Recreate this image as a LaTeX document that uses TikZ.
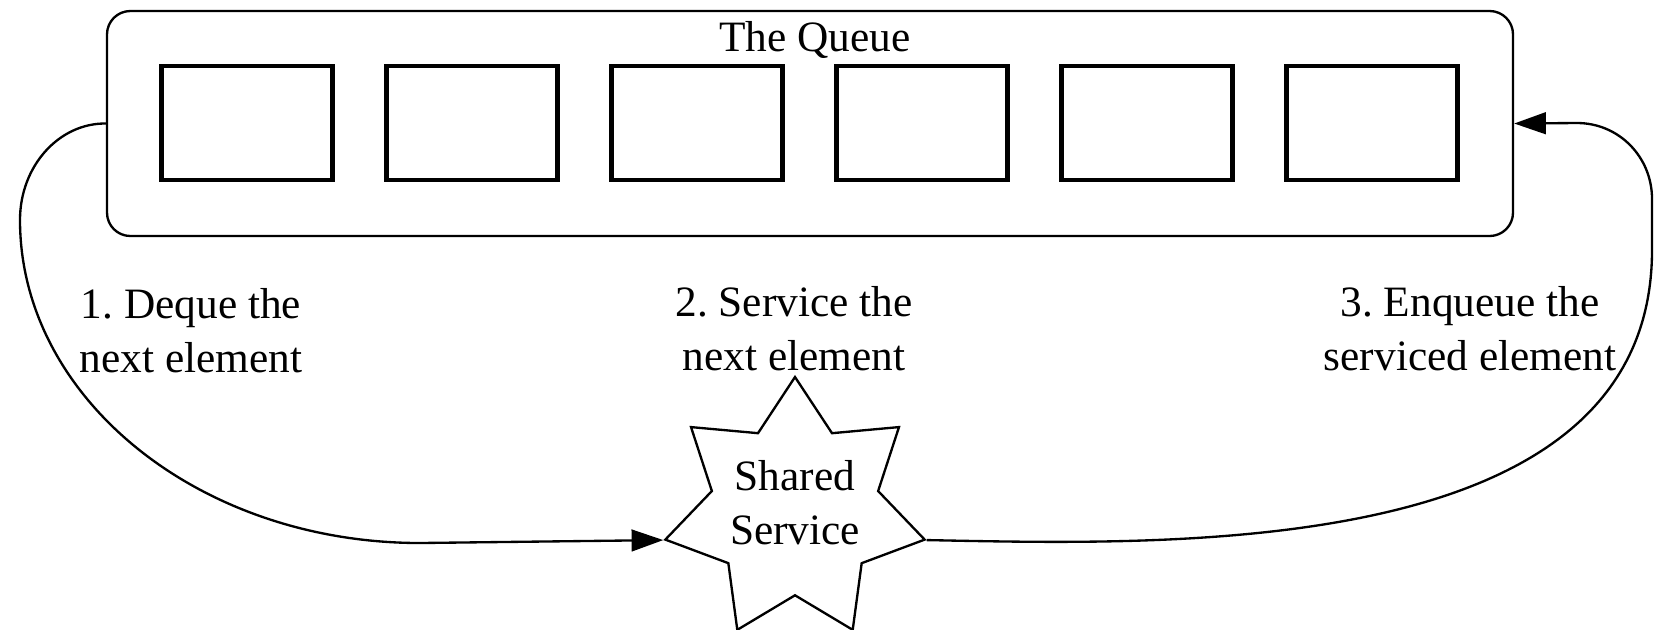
\documentclass[tikz,border=0pt]{standalone}
\usepackage{fontspec}
\setmainfont{Liberation Serif}
\usepackage{xcolor}
\usepackage{tikz}
\usetikzlibrary{
  arrows.meta,
  shapes.geometric
}
\frenchspacing
\tikzset{
  queue/.style={
    draw,
    rounded corners=7pt,
    line width=0.7pt,
    minimum width=421.8pt,
    minimum height=67.5pt
  },
  slot/.style={
    draw,
    line width=1.3pt,
    minimum width=51.3pt,
    minimum height=34.2pt
  },
  server/.style={
    star,
    star points=7,
    star point ratio=1.56,
    minimum size=79.8pt,
    inner sep=-6pt,
    text depth=4.5pt,
    draw,
    line width=0.7pt,
    align=center
  },
  steplabel/.style={
    align=center,
    inner sep=0pt,
    anchor=north
  },
  flow/.style={
    -{Triangle[length=9.5pt,width=6.5pt]},
    line width=0.7pt
  }
}

\begin{document}
\begin{tikzpicture}[x=0.3pt,y=-0.3pt,font=\fontsize{13}{16}\selectfont]

  \useasboundingbox (0,0) rectangle (1654,629);

  \node[queue] at (810,123.5) (queue) {};

  \node[
    inner sep=0pt,
    anchor=base
  ] at (815,51) (queuetitle) {
    The Queue
  };

  \foreach \x [count=\i] in {247,472,697,922,1147,1372} {
    \node[slot] at (\x,123) (slot\i) {};
  }

  \node[server] at (795,510) (service) {
    Shared\\Service
  };

  \node[steplabel] at (191,288) (dequeue) {
    1. Deque the\\next element
  };

  \node[steplabel] at (794,286) (servicing) {
    2. Service the\\next element
  };

  \node[steplabel] at (1470,286) (enqueue) {
    3. Enqueue the\\serviced element
  };

  \draw[flow]
  (queue.west) ..
  controls (59,123) and (20,166) ..
  (20,220) ..
  controls (20,398) and (199,543) ..
  (420,543) --
  (service.outer point 3);

  \draw[flow]
  (service.outer point 6) ..
  controls (1175,545) and (1652,560) ..
  (1652,250) --
  (1652,199) ..
  controls (1652,157) and (1619,123) ..
  (1577,123) --
  (queue.east);

\end{tikzpicture}
\end{document}
